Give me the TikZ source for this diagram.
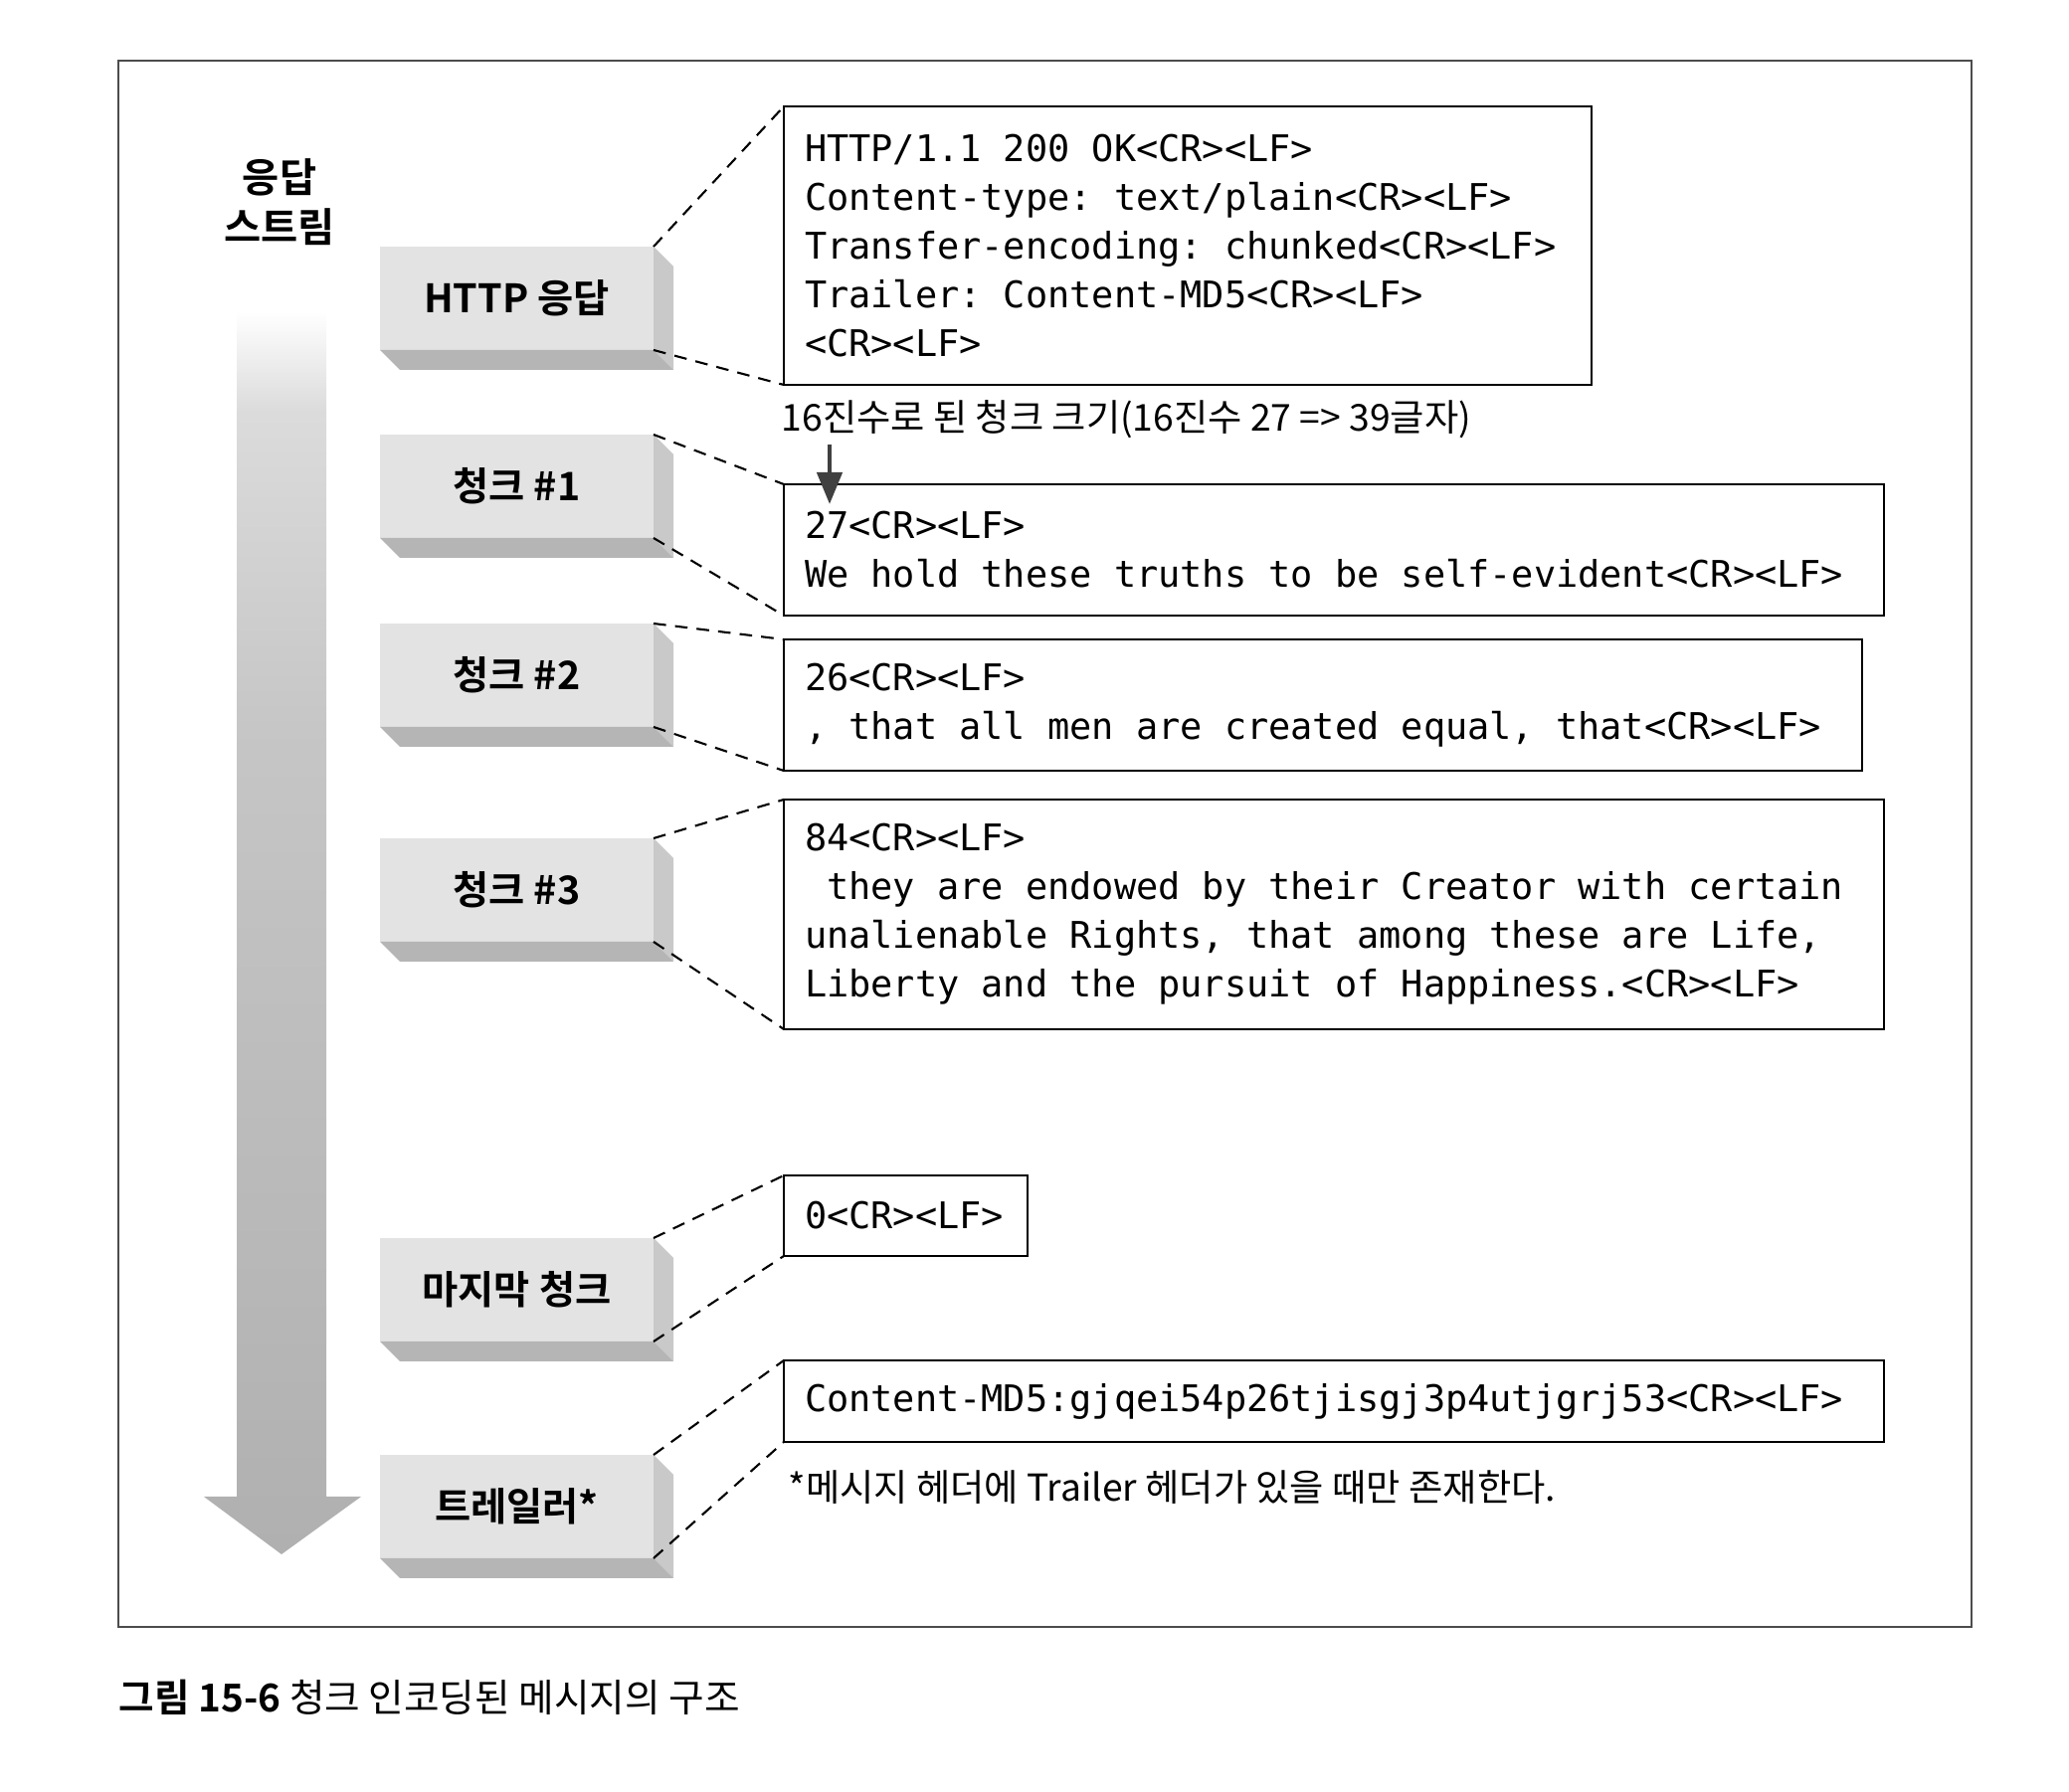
\documentclass[tikz,border=0pt]{standalone}
\usepackage{fontspec}
\setmainfont{Noto Sans CJK KR}[BoldFont={Noto Sans CJK KR Bold}]
\setmonofont{DejaVu Sans Mono}
\usetikzlibrary{arrows.meta}
\pgfdeclareverticalshading{streamfade}{100bp}{color(0bp)=(gray!62); color(25bp)=(gray!62); color(58bp)=(gray!45); color(71bp)=(gray!28); color(75bp)=(white); color(100bp)=(white)}
\newcommand\msgfont{\ttfamily\fontsize{10.5}{13.95}\selectfont\spaceskip 0.602em\relax}

\begin{document}
\begin{tikzpicture}[
    chunkblk/.style={fill=gray!22, minimum width=2.75cm, minimum height=1.04cm,
        inner sep=0pt, outer sep=0pt, font=\bfseries\fontsize{11.2}{14}\selectfont},
    sideface/.style={fill=gray!42},
    baseface/.style={fill=gray!58},
    msgbox/.style={draw, line width=0.7pt, anchor=north west, align=flush left,
        inner xsep=0.21cm, inner ysep=0pt, outer sep=0pt, font=\msgfont},
    conn/.style={dash pattern=on 3.6pt off 2.6pt, line width=0.6pt},
    note/.style={anchor=base west, inner sep=0pt, font=\fontsize{10.6}{13}\selectfont}]

\useasboundingbox (0,0) rectangle (20.8,-18.02);

% ── Marco ─────────────────────────────────────────────────────
\draw[gray!60!black, line width=0.5pt] (1.19,-0.61) rectangle (19.82,-16.36);

% ── Flecha del flujo de respuesta ─────────────────────────────
\node[align=center, font=\bfseries\fontsize{11.5}{14.2}\selectfont] (streamlbl)
    at (2.81,-2.03) {응답\\스트림};
\shade[shading=streamfade] (2.38,-3.13) -- (3.28,-3.13) -- (3.28,-15.05)
    -- (3.63,-15.05) -- (2.83,-15.63) -- (2.05,-15.05) -- (2.38,-15.05) -- cycle;

% ── Bloques ───────────────────────────────────────────────────
\node[chunkblk] (http) at (5.195,-3.00) {HTTP 응답};
\fill[sideface] (http.north east) -- ++(0.2,-0.2)
    -- ([shift={(0.2,-0.2)}]http.south east) -- (http.south east) -- cycle;
\fill[baseface] (http.south west) -- (http.south east) -- ++(0.2,-0.2)
    -- ([shift={(0.2,-0.2)}]http.south west) -- cycle;

\node[chunkblk] (ck1) at (5.195,-4.89) {청크 \#1};
\fill[sideface] (ck1.north east) -- ++(0.2,-0.2)
    -- ([shift={(0.2,-0.2)}]ck1.south east) -- (ck1.south east) -- cycle;
\fill[baseface] (ck1.south west) -- (ck1.south east) -- ++(0.2,-0.2)
    -- ([shift={(0.2,-0.2)}]ck1.south west) -- cycle;

\node[chunkblk] (ck2) at (5.195,-6.79) {청크 \#2};
\fill[sideface] (ck2.north east) -- ++(0.2,-0.2)
    -- ([shift={(0.2,-0.2)}]ck2.south east) -- (ck2.south east) -- cycle;
\fill[baseface] (ck2.south west) -- (ck2.south east) -- ++(0.2,-0.2)
    -- ([shift={(0.2,-0.2)}]ck2.south west) -- cycle;

\node[chunkblk] (ck3) at (5.195,-8.95) {청크 \#3};
\fill[sideface] (ck3.north east) -- ++(0.2,-0.2)
    -- ([shift={(0.2,-0.2)}]ck3.south east) -- (ck3.south east) -- cycle;
\fill[baseface] (ck3.south west) -- (ck3.south east) -- ++(0.2,-0.2)
    -- ([shift={(0.2,-0.2)}]ck3.south west) -- cycle;

\node[chunkblk] (ck0) at (5.195,-12.97) {마지막 청크};
\fill[sideface] (ck0.north east) -- ++(0.2,-0.2)
    -- ([shift={(0.2,-0.2)}]ck0.south east) -- (ck0.south east) -- cycle;
\fill[baseface] (ck0.south west) -- (ck0.south east) -- ++(0.2,-0.2)
    -- ([shift={(0.2,-0.2)}]ck0.south west) -- cycle;

\node[chunkblk] (trl) at (5.195,-15.15) {트레일러*};
\fill[sideface] (trl.north east) -- ++(0.2,-0.2)
    -- ([shift={(0.2,-0.2)}]trl.south east) -- (trl.south east) -- cycle;
\fill[baseface] (trl.south west) -- (trl.south east) -- ++(0.2,-0.2)
    -- ([shift={(0.2,-0.2)}]trl.south west) -- cycle;

% ── Contenido del mensaje ─────────────────────────────────────
\node[msgbox, text width=7.70cm, minimum height=2.80cm] (httptxt) at (7.88,-1.07)
    {HTTP/1.1 200 OK<CR><LF>\\
     Content-type: text/plain<CR><LF>\\
     Transfer-encoding: chunked<CR><LF>\\
     Trailer: Content-MD5<CR><LF>\\
     <CR><LF>};
\node[msgbox, text width=10.64cm, minimum height=1.32cm] (ck1txt) at (7.88,-4.87)
    {27<CR><LF>\\
     We hold these truths to be self-evident<CR><LF>};
\node[msgbox, text width=10.42cm, minimum height=1.32cm] (ck2txt) at (7.88,-6.43)
    {26<CR><LF>\\
     , that all men are created equal, that<CR><LF>};
\node[msgbox, text width=10.64cm, minimum height=2.31cm] (ck3txt) at (7.88,-8.04)
    {84<CR><LF>\\
     \ they are endowed by their Creator with certain\\
     unalienable Rights, that among these are Life,\\
     Liberty and the pursuit of Happiness.<CR><LF>};
\node[msgbox, text width=2.03cm, minimum height=0.81cm] (ck0txt) at (7.88,-11.82)
    {0<CR><LF>};
\node[msgbox, text width=10.64cm, minimum height=0.82cm] (trltxt) at (7.88,-13.68)
    {Content-MD5:gjqei54p26tjisgj3p4utjgrj53<CR><LF>};

% ── Líneas de proyección ──────────────────────────────────────
\draw[conn] (http.north east) -- (httptxt.north west);
\draw[conn] (http.south east) -- (httptxt.south west);
\draw[conn] (ck1.north east) -- (ck1txt.north west);
\draw[conn] (ck1.south east) -- (ck1txt.south west);
\draw[conn] (ck2.north east) -- (ck2txt.north west);
\draw[conn] (ck2.south east) -- (ck2txt.south west);
\draw[conn] (ck3.north east) -- (ck3txt.north west);
\draw[conn] (ck3.south east) -- (ck3txt.south west);
\draw[conn] (ck0.north east) -- (ck0txt.north west);
\draw[conn] (ck0.south east) -- (ck0txt.south west);
\draw[conn] (trl.north east) -- (trltxt.north west);
\draw[conn] (trl.south east) -- (trltxt.south west);

% ── Notas ─────────────────────────────────────────────────────
\node[note] (sznote) at (7.85,-4.34) {16진수로 된 청크 크기(16진수 27 => 39글자)};
\coordinate (szfrom) at (8.34,-4.47);
\coordinate (szto) at (8.34,-5.07);
\draw[black!75, line width=1.3pt, -{Triangle[width=0.25cm, length=0.32cm]}]
    (szfrom) -- (szto);
\node[note] (trlnote) at (7.92,-15.10)
    {*메시지 헤더에 Trailer 헤더가 있을 때만 존재한다.};

% ── Pie de figura ─────────────────────────────────────────────
\node[anchor=base west, inner sep=0pt, font=\fontsize{11}{13}\selectfont] (caption)
    at (1.19,-17.22) {\textbf{그림 15-6} 청크 인코딩된 메시지의 구조};

\end{tikzpicture}
\end{document}
